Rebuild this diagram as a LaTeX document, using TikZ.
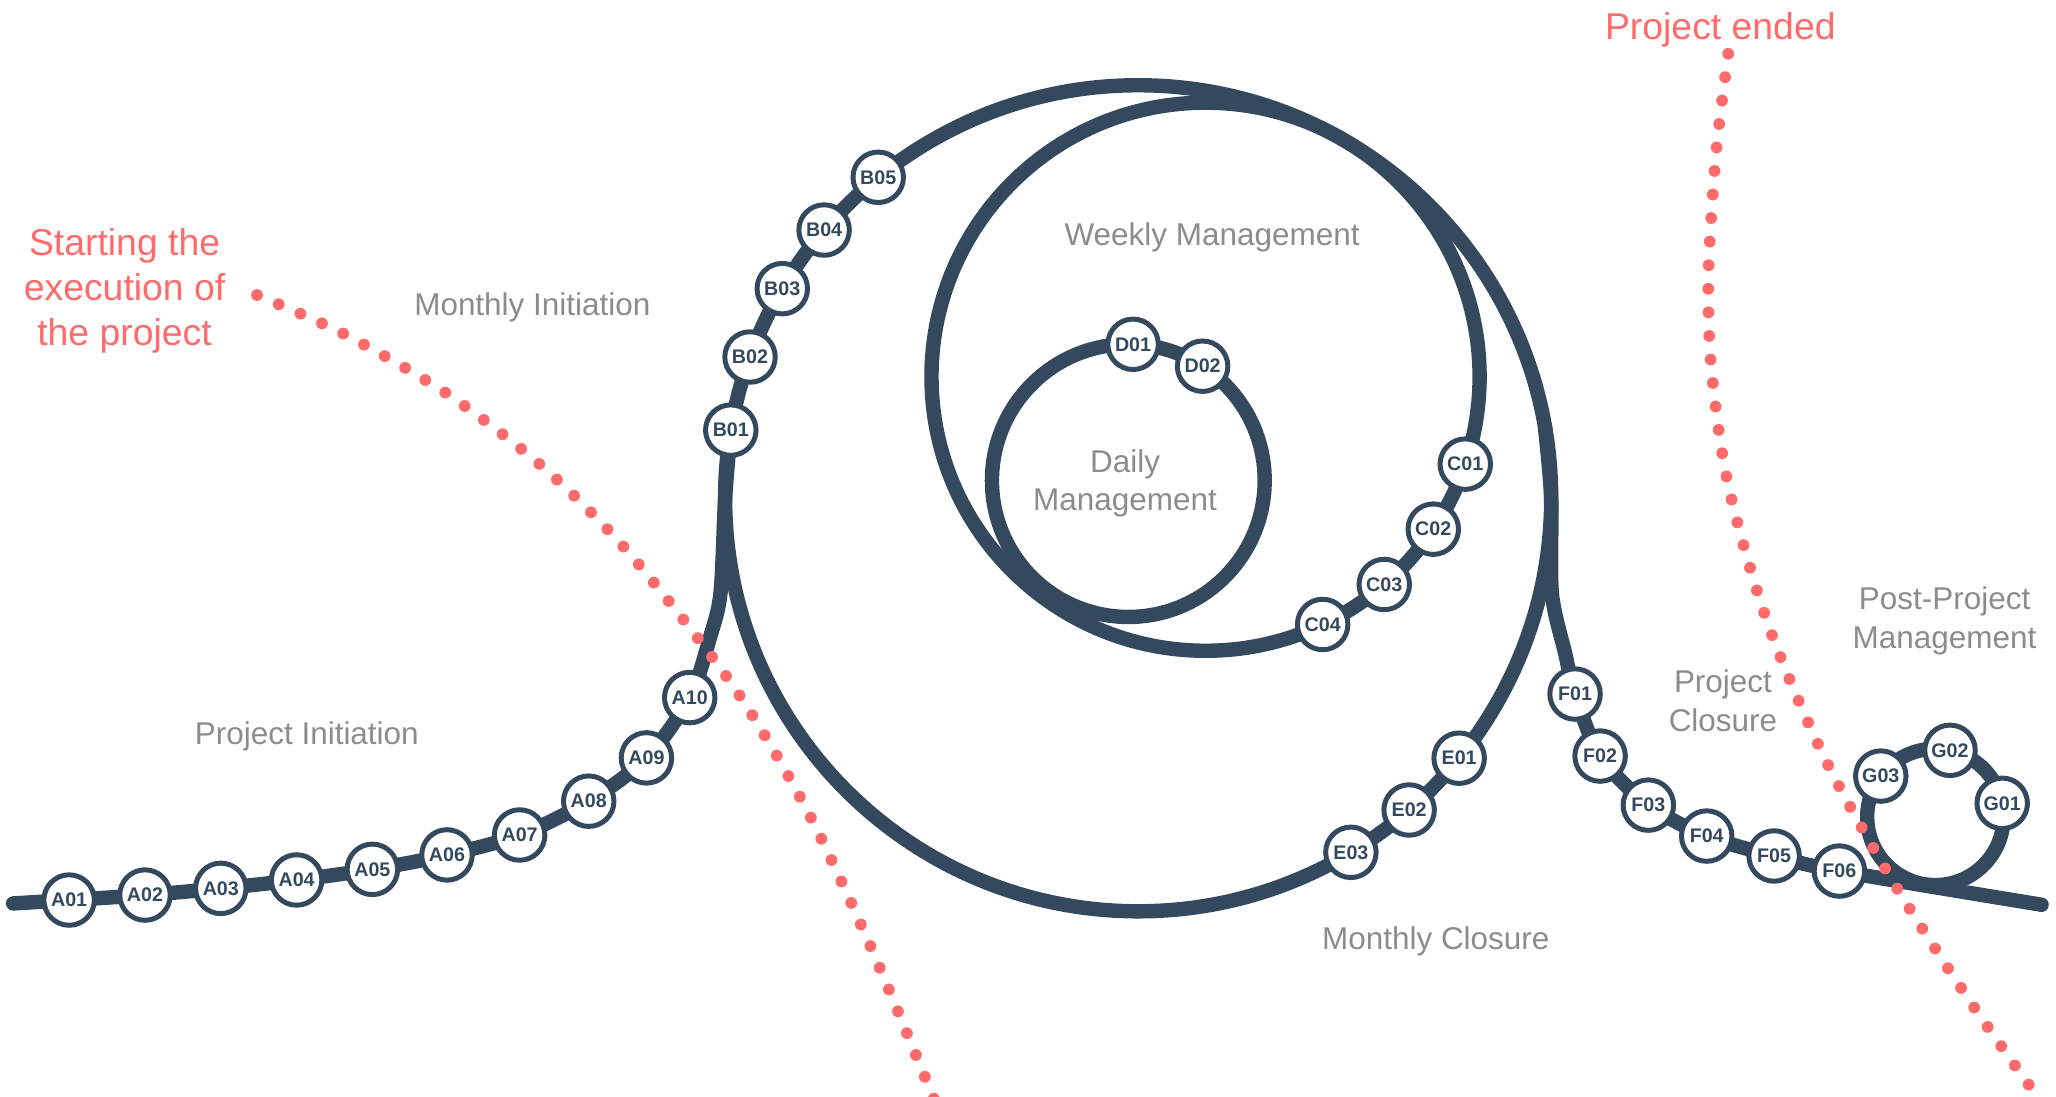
\documentclass[tikz,border=0pt]{standalone}
\usepackage{fontspec}
\setmainfont{Liberation Sans}
\usetikzlibrary{backgrounds}
\definecolor{railblue}{HTML}{34495E}
\definecolor{eventred}{HTML}{FF6B6B}
\definecolor{phasegray}{HTML}{8C8C8C}
\tikzset{
  stop/.style={circle, draw=railblue, line width=3.8pt, fill=white,
    minimum size=38.5pt, inner sep=0pt, text=railblue,
    font=\fontsize{15}{17}\selectfont\bfseries},
  rail/.style={draw=railblue, line width=11pt, line cap=round},
  milestone/.style={draw=eventred, line width=9pt, line cap=round,
    dash pattern=on 0pt off 18pt},
  phase/.style={text=phasegray, align=center, anchor=base,
    font=\fontsize{24}{29.5}\selectfont},
  event/.style={text=eventred, align=center, anchor=base,
    font=\fontsize{28.5}{34.5}\selectfont}
}
\begin{document}
\begin{tikzpicture}[x=1pt, y=-1pt]
  \useasboundingbox (0,0) rectangle (1568,836);
  % loop centres
  \coordinate (Mc) at (868,380); \coordinate (Wc) at (919.4,287.3);
  \coordinate (Dc) at (860.5,366.5); \coordinate (Gc) at (1476,623);
  % project initiation
  \node (A01) at (52.7,686.4) [stop] {A01}; \node (A02) at (110.6,682.6) [stop] {A02};
  \node (A03) at (168.4,677.5) [stop] {A03}; \node (A04) at (226.2,671.1) [stop] {A04};
  \node (A05) at (284,663) [stop] {A05}; \node (A06) at (340.9,652) [stop] {A06};
  \node (A07) at (396.3,636.8) [stop] {A07}; \node (A08) at (449,611) [stop] {A08};
  \node (A09) at (493,578) [stop] {A09}; \node (A10) at (526,532) [stop] {A10};
  % monthly loop
  \node (B01) at ([shift={(189.5:315)}]Mc) [stop] {B01};
  \node (B02) at ([shift={(200:315)}]Mc) [stop] {B02};
  \node (B03) at ([shift={(210.5:315)}]Mc) [stop] {B03};
  \node (B04) at ([shift={(220.5:315)}]Mc) [stop] {B04};
  \node (B05) at ([shift={(231:315)}]Mc) [stop] {B05};
  \node (E01) at ([shift={(39:315)}]Mc) [stop] {E01};
  \node (E02) at ([shift={(49:315)}]Mc) [stop] {E02};
  \node (E03) at ([shift={(59:315)}]Mc) [stop] {E03};
  % weekly and daily loops
  \node (C01) at ([shift={(18.6:209)}]Wc) [stop] {C01};
  \node (C02) at ([shift={(33.8:209)}]Wc) [stop] {C02};
  \node (C03) at ([shift={(49.3:209)}]Wc) [stop] {C03};
  \node (C04) at ([shift={(64.7:209)}]Wc) [stop] {C04};
  \node (D01) at ([shift={(-88:104)}]Dc) [stop] {D01};
  \node (D02) at ([shift={(-57:104)}]Dc) [stop] {D02};
  % project closure
  \node (F01) at (1201.2,529.3) [stop] {F01}; \node (F02) at (1220.3,576.6) [stop] {F02};
  \node (F03) at (1257.1,614) [stop] {F03}; \node (F04) at (1301.6,637.6) [stop] {F04};
  \node (F05) at (1353,652.8) [stop] {F05}; \node (F06) at (1402.8,664.3) [stop] {F06};
  \node (G01) at ([shift={(-11.5:52)}]Gc) [stop] {G01};
  \node (G02) at ([shift={(-77.6:52)}]Gc) [stop] {G02};
  \node (G03) at ([shift={(-143.2:52)}]Gc) [stop] {G03};
  % the track
  \begin{scope}[on background layer]
    \draw[rail] (Mc) circle[radius=315pt]; \draw[rail] (Wc) circle[radius=209pt];
    \draw[rail] (Dc) circle[radius=104pt]; \draw[rail] (Gc) circle[radius=52pt];
    \draw[rail] plot[smooth] coordinates {(10,689) (A01.center) (A02.center)
      (A03.center) (A04.center) (A05.center) (A06.center) (A07.center)
      (A08.center) (A09.center) (A10.center) (541.5,486) (549.5,452) (553,380)
      (B01.center)};
    \draw[rail] plot[smooth] coordinates {(1178.2,325.3) (1183,380)
      (1183.5,452) (1193.6,498) (F01.center) (F02.center) (F03.center)
      (F04.center) (F05.center) (F06.center) (1557,690)};
    \draw[milestone] plot[smooth] coordinates {(196,225) (263,255) (342,301)
      (415,357) (480,422) (559,523) (615,617) (664,722) (713,840)};
    \draw[milestone] plot[smooth] coordinates {(1318,41) (1309,114) (1303,206)
      (1305,279) (1318,370) (1348,475) (1391,577) (1444,673) (1504,766)
      (1560,845)};
  \end{scope}
  % labels
  \node (start) at (95,263.5) [event] {Starting the\\execution of\\the project};
  \node (ended) at (1312,30.5) [event] {Project ended};
  \node (pinit) at (234,568) [phase] {Project Initiation};
  \node (minit) at (406,240.8) [phase] {Monthly Initiation};
  \node (weekly) at (924.4,186.9) [phase] {Weekly Management};
  \node (daily) at (858,389.5) [phase] {Daily\\Management};
  \node (mclose) at (1095,724) [phase] {Monthly Closure};
  \node (pclose) at (1314,558) [phase] {Project\\Closure};
  \node (post) at (1483,494.5) [phase] {Post-Project\\Management};
\end{tikzpicture}
\end{document}
